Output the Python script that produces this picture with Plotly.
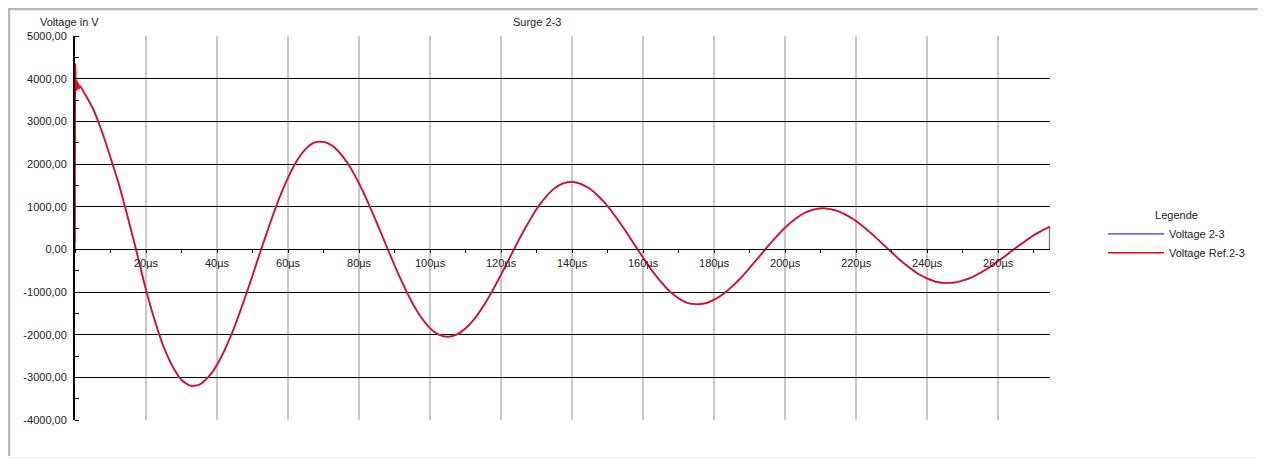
import plotly.graph_objects as go

# ---- data ----
time_us = [2.5, 5, 7.5, 10, 12.5, 15, 17.5, 20, 22.5, 25, 27.5, 30, 32.5, 35, 37.5, 40,
           42.5, 45, 47.5, 50, 52.5, 55, 57.5, 60, 62.5, 65, 67.5, 70, 72.5, 75, 77.5, 80,
           82.5, 85, 87.5, 90, 92.5, 95, 97.5, 100, 102.5, 105, 107.5, 110, 112.5, 115,
           117.5, 120, 122.5, 125, 127.5, 130, 132.5, 135, 137.5, 140, 142.5, 145, 147.5,
           150, 152.5, 155, 157.5, 160, 162.5, 165, 167.5, 170, 172.5, 175, 177.5, 180,
           182.5, 185, 187.5, 190, 192.5, 195, 197.5, 200, 202.5, 205, 207.5, 210, 212.5,
           215, 217.5, 220, 222.5, 225, 227.5, 230, 232.5, 235, 237.5, 240, 242.5, 245,
           247.5, 250, 252.5, 255, 257.5, 260, 262.5, 265, 267.5, 270, 272.5, 274.6]

voltage_ref = [3680, 3310, 2780, 2150, 1480, 710, -110, -950, -1680, -2290, -2750, -3060,
               -3200, -3170, -3000, -2705, -2298, -1798, -1225, -611, 16, 626, 1190, 1682,
               2075, 2359, 2505, 2521, 2423, 2220, 1922, 1546, 1104, 620, 120, -375, -840,
               -1254, -1596, -1848, -2004, -2050, -1996, -1854, -1629, -1334, -981, -593,
               -186, 219, 600, 941, 1220, 1425, 1548, 1579, 1533, 1418, 1241, 1010, 738, 435,
               119, -196, -494, -761, -984, -1152, -1255, -1290, -1263, -1182, -1051, -878,
               -669, -436, -190, 57, 294, 508, 690, 829, 921, 959, 946, 890, 793, 661, 499,
               318, 124, -71, -259, -429, -574, -685, -758, -789, -779, -734, -657, -552,
               -423, -278, -122, 35, 188, 327, 448, 529]

voltage = [3690, 3305, 2785, 2145, 1485, 705, -105, -955, -1675, -2295, -2745, -3065,
           -3195, -3175, -2995, -2710, -2294, -1803, -1220, -615, 20, 621, 1195, 1677,
           2080, 2354, 2510, 2516, 2428, 2215, 1927, 1541, 1109, 615, 125, -380, -835,
           -1259, -1591, -1853, -1999, -2045, -2001, -1849, -1634, -1329, -986, -588,
           -191, 224, 595, 946, 1215, 1430, 1543, 1584, 1528, 1423, 1236, 1015, 733, 440,
           114, -191, -499, -756, -989, -1147, -1260, -1285, -1268, -1177, -1056, -873,
           -674, -431, -195, 62, 289, 513, 685, 834, 916, 964, 941, 895, 788, 666, 494,
           323, 119, -66, -264, -424, -579, -680, -763, -784, -784, -729, -662, -547,
           -428, -273, -127, 40, 183, 332, 443, 534]

# start transients (first microseconds) and end of record
start_time_ref = [0, 0.15, 0.35, 0.55, 0.75, 0.95, 1.2, 1.5]
start_volt_ref = [160, 4360, 3720, 3950, 3760, 3880, 3780, 3830]
start_time = [0, 0.15, 0.8, 1.5]
start_volt = [0, 3760, 3760, 3800]
end_time_ref = [274.6]
end_volt_ref = [0]

y_ticks = [-4000, -3000, -2000, -1000, 0, 1000, 2000, 3000, 4000, 5000]
y_labels = ["-4000,00", "-3000,00", "-2000,00", "-1000,00", "0,00",
            "1000,00", "2000,00", "3000,00", "4000,00", "5000,00"]
x_ticks = [20, 40, 60, 80, 100, 120, 140, 160, 180, 200, 220, 240, 260]
x_labels = [f"{v}µs" for v in x_ticks]

FONT = "Liberation Sans, Arial, sans-serif"
BLUE = "#6f6ff5"
RED = "#ff0000"

fig = go.Figure()
fig.add_trace(go.Scatter(
    x=start_time + time_us, y=start_volt + voltage,
    mode="lines", name="Voltage 2-3",
    line=dict(color=BLUE, width=1.8, shape="spline", smoothing=0.6)))
fig.add_trace(go.Scatter(
    x=start_time_ref + time_us, y=start_volt_ref + voltage_ref,
    mode="lines", name="Voltage Ref.2-3",
    line=dict(color=RED, width=1.5, shape="spline", smoothing=0.6)))
fig.add_trace(go.Scatter(
    x=time_us[-1:] + end_time_ref, y=voltage_ref[-1:] + end_volt_ref,
    mode="lines", name="Voltage Ref.2-3", showlegend=False,
    line=dict(color=RED, width=1.5)))

# page offset of the figure (browser body margin) is 8 px
OFF = 8
W, H = 1266 - OFF, 459 - OFF
PX0, PX1 = 75, 1050     # plot area in page pixels
PY0, PY1 = 36, 420
L, T = PX0 - OFF, PY0 - OFF
R, B = W - (PX1 - OFF), H - (PY1 - OFF)
pw, ph = PX1 - PX0, PY1 - PY0


def px(x):
    return (x - PX0) / pw


def py(y):
    return (PY1 - y) / ph


fig.update_layout(
    width=W, height=H,
    margin=dict(l=L, r=R, t=T, b=B, autoexpand=False),
    paper_bgcolor="white", plot_bgcolor="white",
    font=dict(family=FONT, size=11, color="#222"),
    showlegend=True,
    legend=dict(
        x=px(1103), y=py(205), xanchor="left", yanchor="top",
        title=dict(text="Legende", side="top center", font=dict(size=11, color="#222")),
        font=dict(size=11, color="#222"),
        itemwidth=56, tracegroupgap=0, bgcolor="rgba(0,0,0,0)",
    ),
    xaxis=dict(
        range=[0, 274.6], tickvals=x_ticks, ticktext=x_labels,
        showgrid=True, gridcolor="#c8c8c8", gridwidth=2,
        showline=True, linecolor="black", linewidth=1,
        zeroline=False, anchor="free", position=4000 / 9000,
        ticks="outside", ticklen=3, tickcolor="black",
        minor=dict(dtick=10, tick0=0, ticks="outside", ticklen=3, tickcolor="black", showgrid=False),
        tickfont=dict(size=11, color="#222"),
    ),
    yaxis=dict(
        range=[-4000, 5000], tickvals=y_ticks, ticktext=y_labels,
        showgrid=True, gridcolor="black", gridwidth=1,
        showline=True, linecolor="black", linewidth=2,
        zeroline=False, ticks="", ticklen=0, ticklabelstandoff=4,
        minor=dict(dtick=500, tick0=-4000, ticks="inside", ticklen=4, tickcolor="black", showgrid=False),
        tickfont=dict(size=11, color="#222"),
    ),
    annotations=[
        dict(text="Surge 2-3", xref="paper", yref="paper", x=px(537), y=py(22),
             xanchor="center", yanchor="middle", showarrow=False, font=dict(size=11, color="#222")),
        dict(text="Voltage in V", xref="paper", yref="paper", x=px(38), y=py(22),
             xanchor="left", yanchor="middle", showarrow=False, font=dict(size=11, color="#222")),
    ],
    shapes=[
        dict(type="line", xref="paper", yref="paper", x0=px(9), x1=px(9), y0=py(8), y1=py(456),
             line=dict(color="#b8b8b8", width=2.5)),
        dict(type="line", xref="paper", yref="paper", x0=px(8), x1=px(1270), y0=py(9), y1=py(9),
             line=dict(color="#b8b8b8", width=2.5)),
        dict(type="line", xref="paper", yref="paper", x0=px(8), x1=px(1270), y0=py(457.5), y1=py(457.5),
             line=dict(color="#eeeeee", width=1)),
    ],
)

fig.write_html("out.html")
